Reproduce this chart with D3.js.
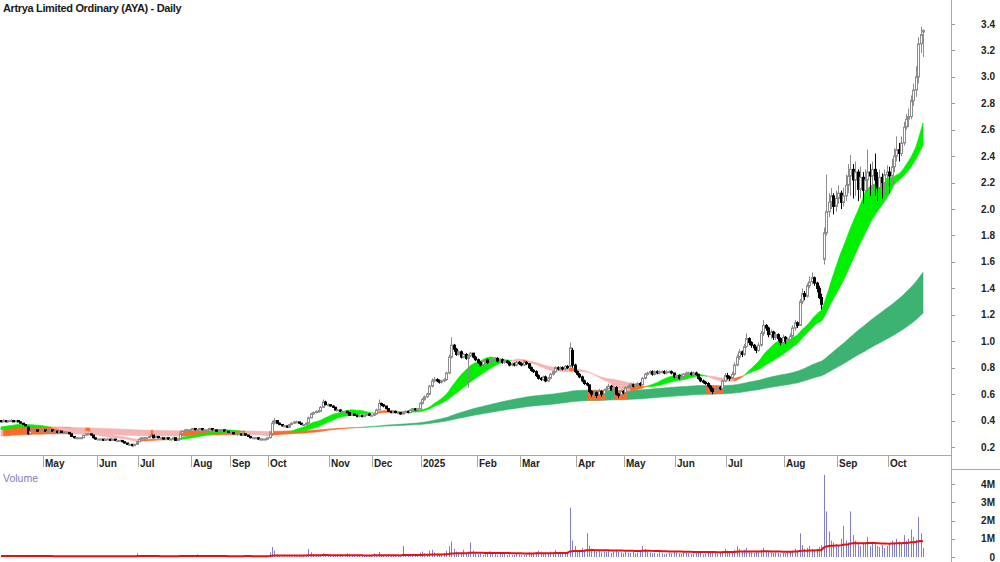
<!DOCTYPE html>
<html>
<head>
<meta charset="utf-8">
<script src="https://cdn.jsdelivr.net/npm/d3@7"></script>
<style>
  body { margin: 0; background: #fff; }
  svg { display: block; font-family: "Liberation Sans", Arial, sans-serif; }
</style>
</head>
<body>
<svg id="chart" width="1000" height="562"></svg>
<script>
// ---- data (AYA daily, Apr 2024 - Oct 2025) ----
const monthLabels = ["May","Jun","Jul","Aug","Sep","Oct","Nov","Dec","2025","Feb","Mar","Apr","May","Jun","Jul","Aug","Sep","Oct"];
const monthStarts = [18,40,57,79,95,111,136,154,174,197,215,238,258,279,300,324,346,367];
const priceTicks = [0.2,0.4,0.6,0.8,1.0,1.2,1.4,1.6,1.8,2.0,2.2,2.4,2.6,2.8,3.0,3.2,3.4];
const volTicks = [0,1,2,3,4];
const volTickLabels = ["0","1M","2M","3M","4M"];

const closes = [
.39,.40,.39,.40,.40,.39,.40,.39,.38,.37,
.36,.30,.32,.33,.33,.32,.33,.33,.32,.32,
.33,.32,.32,.31,.32,.31,.31,.31,.30,.28,
.27,.27,.27,.27,.29,.30,.30,.29,.27,.26,
.26,.26,.25,.26,.26,.25,.26,.25,.25,.25,
.24,.23,.22,.22,.21,.22,.24,.26,.27,.27,
.27,.28,.29,.27,.28,.27,.27,.26,.27,.26,
.26,.27,.25,.26,.30,.32,.33,.33,.33,.34,
.33,.33,.34,.33,.33,.33,.34,.33,.33,.32,
.33,.33,.32,.32,.31,.31,.30,.30,.30,.29,
.30,.29,.28,.27,.27,.27,.26,.26,.26,.26,
.27,.30,.38,.40,.38,.37,.36,.36,.35,.37,
.38,.39,.39,.38,.37,.37,.38,.42,.45,.46,
.47,.47,.50,.54,.52,.52,.51,.50,.48,.48,
.47,.47,.47,.46,.44,.45,.44,.43,.44,.43,
.44,.45,.44,.44,.45,.48,.53,.52,.51,.49,
.47,.46,.47,.46,.46,.45,.46,.47,.46,.48,
.49,.48,.49,.53,.56,.58,.60,.66,.70,.71,
.70,.69,.70,.71,.76,.88,.97,.94,.90,.92,
.88,.90,.87,.89,.91,.88,.86,.84,.82,.85,
.86,.84,.85,.86,.87,.85,.86,.84,.85,.84,
.82,.83,.82,.84,.83,.82,.84,.83,.80,.78,
.77,.74,.72,.71,.73,.70,.72,.75,.77,.80,
.79,.80,.79,.81,.80,.95,.82,.77,.75,.73,
.70,.68,.67,.62,.60,.61,.59,.62,.60,.63,
.64,.66,.63,.65,.60,.59,.62,.61,.65,.66,
.67,.66,.67,.68,.67,.72,.75,.76,.77,.75,
.77,.76,.77,.77,.76,.77,.77,.76,.73,.74,
.72,.73,.75,.76,.76,.75,.76,.75,.72,.70,
.69,.68,.66,.64,.62,.63,.65,.64,.70,.74,
.73,.72,.75,.82,.88,.92,.90,.96,1.02,.99,
.97,.95,.93,.97,1.06,1.12,1.10,1.05,1.07,1.03,
1.05,1.02,.99,1.03,1.00,1.01,1.04,1.10,1.14,1.12,
1.30,1.36,1.34,1.42,1.45,1.48,1.44,1.40,1.33,1.28,
1.82,1.98,2.05,2.10,2.02,2.08,2.12,2.05,2.10,2.18,
2.25,2.30,2.22,2.28,2.15,2.24,2.14,2.22,2.28,2.25,
2.30,2.22,2.16,2.24,2.20,2.26,2.28,2.25,2.32,2.40,
2.45,2.42,2.50,2.62,2.68,2.70,2.82,2.90,3.00,3.25,
3.32,3.35];

const opens = [
.40,.39,.40,.39,.40,.40,.39,.40,.39,.38,
.37,.35,.30,.32,.33,.33,.32,.33,.33,.32,
.32,.33,.32,.32,.31,.32,.31,.31,.31,.30,
.28,.27,.27,.27,.27,.29,.30,.30,.29,.27,
.26,.26,.26,.25,.26,.26,.25,.26,.25,.25,
.25,.24,.23,.22,.22,.21,.22,.24,.26,.27,
.27,.27,.28,.29,.27,.28,.27,.27,.26,.27,
.26,.26,.27,.25,.26,.30,.32,.33,.33,.33,
.34,.33,.33,.34,.33,.33,.33,.34,.33,.33,
.32,.33,.33,.32,.32,.31,.31,.30,.30,.30,
.29,.30,.29,.28,.27,.27,.27,.26,.26,.26,
.26,.27,.30,.38,.40,.38,.37,.36,.36,.35,
.37,.38,.39,.39,.38,.37,.37,.38,.42,.45,
.46,.47,.47,.50,.54,.52,.52,.51,.50,.48,
.48,.47,.47,.47,.46,.44,.45,.44,.43,.44,
.43,.44,.45,.44,.44,.45,.48,.53,.52,.51,
.49,.47,.46,.47,.46,.46,.45,.46,.47,.46,
.48,.49,.48,.49,.53,.56,.58,.60,.66,.70,
.71,.70,.69,.70,.71,.76,.88,.97,.94,.90,
.92,.88,.90,.87,.89,.91,.88,.86,.84,.82,
.85,.86,.84,.85,.86,.87,.85,.86,.84,.85,
.84,.82,.83,.82,.84,.83,.82,.84,.83,.80,
.78,.77,.74,.72,.71,.73,.70,.72,.75,.77,
.80,.79,.80,.79,.81,.81,.93,.82,.77,.75,
.73,.70,.68,.67,.62,.60,.61,.59,.62,.60,
.63,.64,.66,.63,.65,.60,.59,.62,.61,.65,
.66,.67,.66,.67,.68,.67,.72,.75,.76,.77,
.75,.77,.76,.77,.77,.76,.77,.77,.76,.73,
.74,.72,.73,.75,.76,.76,.75,.76,.75,.72,
.70,.69,.68,.66,.64,.62,.63,.65,.64,.70,
.74,.73,.72,.75,.82,.88,.92,.90,.96,1.02,
.99,.97,.95,.93,.97,1.06,1.12,1.10,1.05,1.07,
1.03,1.05,1.02,.99,1.03,1.00,1.01,1.04,1.10,1.14,
1.12,1.30,1.36,1.34,1.42,1.45,1.48,1.44,1.40,1.33,
1.62,1.82,1.98,2.05,2.10,2.02,2.08,2.12,2.05,2.10,
2.18,2.25,2.30,2.22,2.28,2.15,2.24,2.14,2.22,2.28,
2.25,2.30,2.22,2.16,2.24,2.20,2.26,2.28,2.25,2.32,
2.40,2.45,2.42,2.50,2.62,2.68,2.70,2.82,2.90,3.00,
3.25,3.34];

const highs = [
.40,.41,.40,.40,.41,.40,.40,.40,.39,.38,
.37,.355,.32,.335,.335,.33,.335,.335,.33,.325,
.335,.33,.325,.32,.325,.32,.315,.315,.31,.30,
.28,.275,.275,.275,.29,.305,.305,.30,.29,.27,
.265,.265,.26,.26,.265,.26,.26,.26,.255,.255,
.25,.24,.23,.225,.22,.225,.245,.265,.275,.275,
.275,.285,.295,.29,.285,.28,.275,.27,.275,.27,
.265,.275,.27,.265,.30,.325,.335,.335,.335,.345,
.34,.335,.345,.34,.335,.335,.345,.34,.335,.33,
.335,.335,.33,.325,.32,.315,.31,.305,.305,.30,
.30,.30,.29,.28,.275,.275,.27,.265,.265,.265,
.27,.31,.40,.42,.40,.385,.37,.365,.36,.375,
.385,.395,.40,.39,.38,.375,.385,.43,.46,.47,
.475,.48,.51,.56,.55,.53,.525,.515,.50,.49,
.485,.475,.475,.475,.46,.455,.45,.445,.445,.445,
.445,.455,.455,.445,.455,.49,.56,.535,.525,.51,
.49,.475,.475,.475,.465,.465,.465,.475,.475,.485,
.495,.495,.495,.54,.57,.59,.61,.67,.72,.73,
.72,.71,.71,.72,.77,.90,1.03,.98,.95,.93,
.93,.91,.91,.90,.92,.91,.89,.87,.85,.86,
.87,.87,.86,.87,.88,.88,.87,.87,.86,.86,
.85,.84,.84,.85,.85,.84,.85,.85,.83,.81,
.79,.78,.75,.73,.74,.74,.73,.76,.78,.81,
.81,.81,.81,.82,.82,.99,.95,.83,.78,.76,
.74,.71,.69,.67,.63,.63,.62,.64,.63,.64,
.66,.68,.67,.66,.66,.61,.63,.63,.66,.67,
.68,.68,.68,.69,.69,.73,.76,.77,.78,.78,
.78,.78,.78,.78,.78,.78,.78,.78,.76,.75,
.75,.74,.76,.77,.77,.77,.77,.77,.75,.73,
.71,.70,.69,.67,.65,.64,.66,.66,.71,.76,
.76,.74,.77,.84,.90,.94,.93,.98,1.06,1.03,
1.00,.98,.96,.99,1.08,1.16,1.13,1.11,1.09,1.08,
1.07,1.06,1.03,1.05,1.04,1.03,1.06,1.12,1.16,1.15,
1.32,1.40,1.38,1.44,1.49,1.52,1.49,1.45,1.42,1.36,
1.86,2.26,2.12,2.16,2.12,2.14,2.18,2.14,2.16,2.26,
2.34,2.41,2.34,2.36,2.30,2.32,2.28,2.30,2.45,2.34,
2.36,2.42,2.28,2.30,2.27,2.30,2.33,2.32,2.38,2.46,
2.55,2.50,2.55,2.66,2.72,2.76,2.86,2.95,3.08,3.30,
3.38,3.36];

const lows = [
.39,.39,.39,.39,.39,.39,.39,.39,.38,.37,
.36,.295,.30,.32,.325,.315,.32,.325,.315,.315,
.32,.315,.315,.305,.31,.305,.305,.305,.295,.275,
.265,.265,.265,.265,.27,.29,.295,.285,.265,.255,
.255,.255,.245,.25,.255,.245,.25,.245,.245,.245,
.235,.225,.215,.21,.205,.21,.22,.24,.26,.265,
.265,.27,.28,.265,.27,.265,.265,.255,.26,.255,
.255,.26,.245,.25,.26,.295,.32,.325,.325,.33,
.325,.325,.33,.325,.325,.325,.33,.325,.325,.315,
.32,.325,.315,.315,.305,.305,.295,.295,.295,.285,
.285,.285,.275,.265,.265,.265,.255,.255,.255,.255,
.255,.265,.30,.37,.375,.365,.355,.35,.345,.35,
.365,.375,.385,.375,.365,.365,.365,.38,.42,.445,
.455,.465,.47,.50,.515,.51,.505,.495,.475,.475,
.465,.465,.465,.455,.435,.435,.435,.425,.425,.425,
.425,.435,.435,.435,.435,.445,.48,.51,.50,.485,
.465,.455,.455,.455,.455,.445,.445,.455,.455,.455,
.475,.475,.475,.485,.52,.55,.57,.59,.65,.69,
.69,.68,.68,.69,.70,.75,.87,.92,.89,.89,
.87,.87,.86,.65,.88,.87,.85,.83,.81,.81,
.84,.83,.83,.84,.85,.84,.84,.83,.83,.83,
.81,.81,.81,.81,.82,.81,.81,.82,.79,.77,
.76,.73,.71,.70,.70,.69,.69,.71,.74,.76,
.78,.78,.78,.78,.79,.80,.80,.76,.74,.72,
.69,.67,.66,.61,.58,.58,.57,.58,.58,.59,
.63,.64,.63,.63,.59,.57,.58,.60,.60,.64,
.65,.65,.65,.66,.66,.67,.71,.74,.75,.74,
.74,.75,.75,.76,.75,.75,.76,.75,.72,.72,
.71,.71,.72,.74,.75,.74,.74,.74,.71,.69,
.68,.67,.65,.62,.60,.61,.62,.63,.64,.69,
.71,.70,.71,.74,.81,.86,.88,.89,.95,.97,
.95,.93,.91,.92,.96,1.04,1.08,1.03,1.02,1.01,
1.01,1.00,.97,.98,.98,.98,1.00,1.03,1.08,1.10,
1.12,1.28,1.31,1.33,1.40,1.43,1.42,1.37,1.32,1.24,
1.58,1.80,1.94,2.00,1.96,1.98,2.04,2.00,2.02,2.06,
2.12,2.10,2.08,2.10,2.06,2.08,2.04,2.10,2.12,2.10,
2.14,2.10,2.06,2.10,2.08,2.12,2.15,2.12,2.18,2.28,
2.36,2.36,2.40,2.48,2.60,2.62,2.68,2.78,2.85,2.95,
3.18,3.15];

// volume in millions of shares
const volumes = [
.05,.04,.06,.03,.04,.05,.03,.04,.08,.06,
.05,.12,.06,.04,.03,.05,.04,.03,.04,.03,
.03,.04,.02,.03,.04,.03,.02,.03,.05,.07,
.06,.04,.03,.03,.05,.06,.04,.03,.05,.04,
.03,.02,.04,.03,.02,.03,.02,.04,.03,.02,
.04,.05,.06,.04,.08,.05,.20,.10,.06,.04,
.04,.05,.06,.04,.03,.04,.03,.05,.03,.04,
.03,.04,.06,.05,.12,.08,.06,.04,.05,.05,
.04,.15,.05,.03,.04,.03,.05,.04,.03,.04,
.03,.04,.03,.05,.04,.03,.04,.03,.05,.04,
.06,.10,.04,.05,.03,.04,.03,.05,.04,.06,
.05,.25,.55,.35,.15,.10,.08,.06,.07,.09,
.10,.08,.06,.07,.05,.06,.12,.45,.25,.15,
.10,.08,.12,.20,.12,.09,.07,.06,.08,.05,
.06,.05,.04,.20,.08,.06,.05,.04,.06,.05,
.04,.05,.06,.08,.20,.12,.28,.10,.08,.06,
.07,.06,.05,.08,.06,.05,.60,.10,.08,.12,
.10,.08,.09,.25,.30,.20,.18,.35,.40,.25,
.20,.15,.18,.22,.35,.60,.85,.45,.30,.25,
.20,.40,.25,.30,.80,.35,.20,.15,.18,.12,
.15,.22,.30,.18,.15,.12,.20,.15,.28,.12,
.15,.10,.12,.18,.14,.10,.12,.15,.25,.18,
.22,.28,.35,.30,.18,.25,.20,.30,.22,.38,
.25,.20,.18,.22,.30,2.70,.90,.60,.35,.30,
.50,.40,1.30,.60,.45,.35,.30,.40,.25,.30,
.28,.35,.22,.30,.40,.28,.25,.20,.30,.25,
.22,.30,.20,.25,.35,.60,.45,.30,.25,.20,
.22,.18,.25,.20,.15,.18,.22,.20,.30,.25,
.20,.18,.25,.22,.20,.15,.18,.22,.30,.25,
.15,.18,.22,.25,.30,.22,.18,.25,.32,.45,
.35,.25,.30,.40,.60,.45,.32,.40,.50,.30,
.25,.22,.30,.25,.40,.50,.32,.28,.25,.22,
.25,.22,.18,.22,.20,.25,.30,.35,.45,.32,
1.30,.65,.45,.50,.60,.45,.40,.45,.55,.65,
4.50,2.50,1.40,.90,.80,.70,.60,1.00,1.70,.90,
.80,2.50,1.20,.90,.70,.60,.80,.75,1.10,.60,
.80,.70,.60,.55,.65,.50,.60,.70,.90,.80,
1.00,.85,.75,1.20,.90,1.00,1.50,1.10,.95,2.20,
1.30,.50];

const shortSeeds = [0.35, 0.33];
const longSeeds = [0.28, 0.35];
const volSeed = 0.05;

// ---- layout ----
const W = 1000, H = 562;
const axisX = 951;
const priceBottom = 455;
const n = closes.length;

const svg = d3.select("#chart");

const x = d3.scaleLinear().domain([0, n - 1]).range([1, 923]);
const step = x(1) - x(0);
const y = d3.scaleLinear().domain([0.2, 3.4]).range([447, 24]);
const yv = d3.scaleLinear().domain([0, 4]).range([557, 484]);

// moving averages (history before the first bar taken as the seed value)
function sma(len, seed) {
  return closes.map((c, i) => {
    let s = 0;
    for (let k = i - len + 1; k <= i; k++) s += k < 0 ? seed : closes[k];
    return s / len;
  });
}
function ema(values, len, seed) {
  let e = seed;
  return values.map(v => (e = e + (v - e) * 2 / (len + 1)));
}
const sFast = sma(18, shortSeeds[0]);
const sSlow = sma(30, shortSeeds[1]);
const lFast = ema(closes, 150, longSeeds[0]);
const lSlow = ema(closes, 250, longSeeds[1]);
const volAvg = ema(volumes, 60, volSeed);

svg.append("defs").append("clipPath").attr("id", "plot")
  .append("rect").attr("x", 0).attr("y", 0).attr("width", axisX).attr("height", H);

const plot = svg.append("g").attr("clip-path", "url(#plot)");

function drawBand(g, a, b, colorAt) {
  const runs = [];
  let cur = null;
  for (let i = 0; i < n; i++) {
    const c = colorAt(i);
    if (!cur || cur.c !== c) {
      if (cur) cur.idx.push(i);
      cur = { c: c, idx: [] };
      runs.push(cur);
    }
    cur.idx.push(i);
  }
  const area = d3.area().x(i => x(i)).y0(i => y(a[i])).y1(i => y(b[i]));
  g.selectAll(null).data(runs).join("path")
    .attr("d", r => area(r.idx))
    .attr("fill", r => r.c)
    .attr("stroke", r => r.c)
    .attr("stroke-width", 0.6);
}

// bearish bands: orange while the fast line is still rising, pink when it falls
function bandColor(fast, slow, up) {
  return i => {
    if (fast[i] >= slow[i]) return up;
    const rising = i > 0 && fast[i] >= fast[i - 1];
    return rising ? "#ff6a2a" : "#f6b4b4";
  };
}

// long-term band
drawBand(plot.append("g"), lFast, lSlow, bandColor(lFast, lSlow, "#3cb371"));

// short-term band
drawBand(plot.append("g"), sFast, sSlow, bandColor(sFast, sSlow, "#00f000"));

// bars whose low reaches into the rising long-term band
const longTop = lFast.map((v, i) => Math.max(v, lSlow[i]));
const longBot = lFast.map((v, i) => Math.min(v, lSlow[i]));
const dips = d3.range(n).filter(i => lFast[i] >= lSlow[i] && lows[i] < longTop[i]);
plot.append("g").selectAll("rect").data(dips).join("rect")
  .attr("x", i => x(i) - step / 2)
  .attr("width", step + 0.3)
  .attr("y", i => y(longTop[i]))
  .attr("height", i => y(longBot[i]) - y(longTop[i]))
  .attr("fill", "#ff6a2a");

// candles
const candles = plot.append("g").selectAll("g").data(d3.range(n)).join("g");
candles.append("line")
  .attr("x1", i => Math.round(x(i)) + 0.5)
  .attr("x2", i => Math.round(x(i)) + 0.5)
  .attr("y1", i => y(highs[i]))
  .attr("y2", i => y(lows[i]))
  .attr("stroke", i => closes[i] >= opens[i] ? "#8c8c8c" : "#000")
  .attr("stroke-width", 1);
candles.append("rect")
  .attr("x", i => Math.round(x(i)) - 0.5)
  .attr("width", 2)
  .attr("y", i => y(Math.max(opens[i], closes[i])))
  .attr("height", i => Math.max(1, y(Math.min(opens[i], closes[i])) - y(Math.max(opens[i], closes[i]))))
  .attr("fill", i => closes[i] >= opens[i] ? "#fff" : "#000")
  .attr("stroke", i => closes[i] >= opens[i] ? "#8c8c8c" : "#000")
  .attr("stroke-width", 1);

// volume bars and average
plot.append("g").selectAll("line").data(d3.range(n)).join("line")
  .attr("x1", i => Math.round(x(i)) + 0.5)
  .attr("x2", i => Math.round(x(i)) + 0.5)
  .attr("y1", yv(0))
  .attr("y2", i => yv(volumes[i]))
  .attr("stroke", "#8080c8")
  .attr("stroke-width", 1);

plot.append("path")
  .attr("d", d3.line().x(i => x(i)).y(i => yv(volAvg[i]))(d3.range(n)))
  .attr("fill", "none")
  .attr("stroke", "#e81010")
  .attr("stroke-width", 2);

// frame lines
const frame = svg.append("g").attr("stroke", "#a8a8a8").attr("stroke-width", 1);
frame.append("line").attr("x1", 0).attr("x2", axisX).attr("y1", priceBottom + 0.5).attr("y2", priceBottom + 0.5);
frame.append("line").attr("x1", axisX + 0.5).attr("x2", axisX + 0.5).attr("y1", 0).attr("y2", H);
frame.append("line").attr("x1", axisX).attr("x2", W).attr("y1", 469.5).attr("y2", 469.5);

// month axis
const months = svg.append("g");
months.selectAll("line").data(monthStarts).join("line")
  .attr("x1", d => Math.round(x(d) - step / 2) + 0.5)
  .attr("x2", d => Math.round(x(d) - step / 2) + 0.5)
  .attr("y1", priceBottom)
  .attr("y2", 467)
  .attr("stroke", "#a8a8a8");
months.selectAll("text").data(monthStarts).join("text")
  .attr("x", d => Math.round(x(d) - step / 2) + 2)
  .attr("y", 467)
  .attr("font-size", 10)
  .attr("font-weight", "bold")
  .attr("fill", "#222")
  .text((d, i) => monthLabels[i]);

// price axis
const pAxis = svg.append("g");
pAxis.selectAll("line").data(priceTicks).join("line")
  .attr("x1", axisX + 1).attr("x2", axisX + 4)
  .attr("y1", d => Math.round(y(d)) + 0.5).attr("y2", d => Math.round(y(d)) + 0.5)
  .attr("stroke", "#999");
pAxis.selectAll("text").data(priceTicks).join("text")
  .attr("x", 995)
  .attr("y", d => y(d) + 3.5)
  .attr("text-anchor", "end")
  .attr("font-size", 10)
  .attr("font-weight", "bold")
  .attr("fill", "#222")
  .text(d => d3.format(".1f")(d));

// volume axis
const vAxis = svg.append("g");
vAxis.selectAll("line").data(volTicks).join("line")
  .attr("x1", axisX + 1).attr("x2", axisX + 4)
  .attr("y1", d => Math.round(yv(d)) + 0.5).attr("y2", d => Math.round(yv(d)) + 0.5)
  .attr("stroke", "#999");
vAxis.selectAll("text").data(volTicks).join("text")
  .attr("x", 995)
  .attr("y", d => yv(d) + 3.5)
  .attr("text-anchor", "end")
  .attr("font-size", 10)
  .attr("font-weight", "bold")
  .attr("fill", "#222")
  .text((d, i) => volTickLabels[i]);

// titles
svg.append("text")
  .attr("x", 3).attr("y", 12)
  .attr("font-size", 11).attr("font-weight", "bold")
  .attr("letter-spacing", -0.35)
  .attr("fill", "#1a1a1a")
  .text("Artrya Limited Ordinary (AYA) - Daily");

svg.append("text")
  .attr("x", 3).attr("y", 482)
  .attr("font-size", 10.5)
  .attr("fill", "#7c7cc4")
  .text("Volume");
</script>
</body>
</html>
